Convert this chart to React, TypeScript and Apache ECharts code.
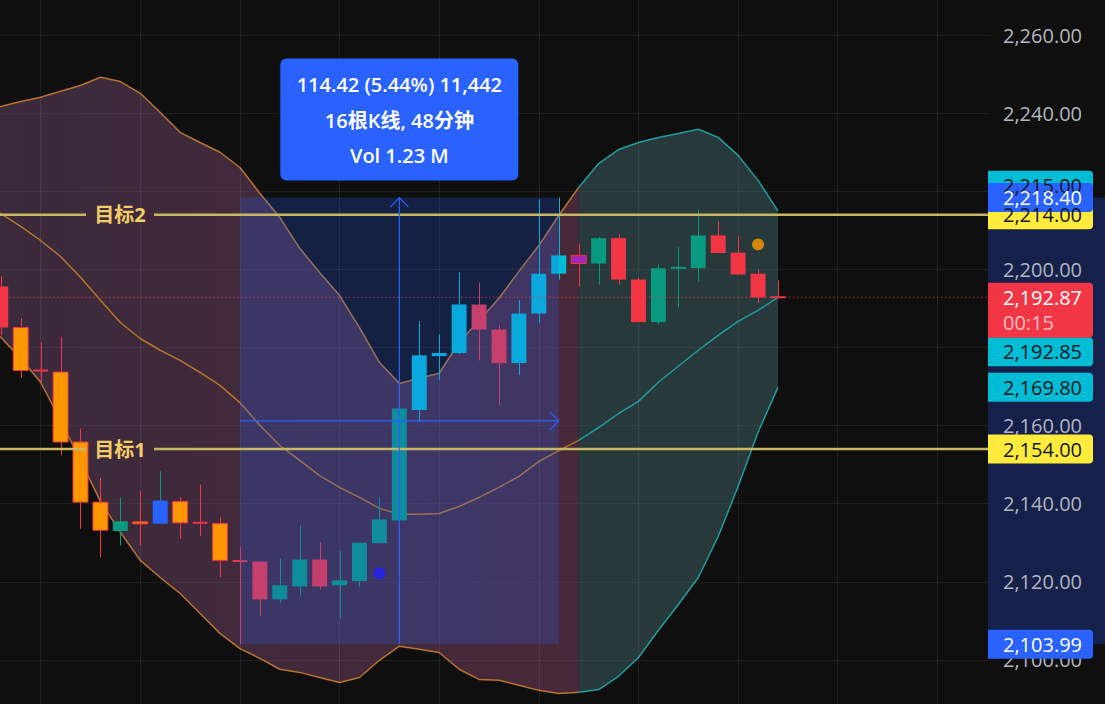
import { useEffect, useRef } from 'react';
import * as echarts from 'echarts';

// ---- candles (index = bar number) ----
const opens = [2195.6, 2185.1, 2174.1, 2173.7, 2155.8, 2140.4, 2133.0, 2135.1, 2134.9, 2140.6, 2135.1, 2134.9, 2125.3, 2125.2, 2115.5, 2118.8, 2125.7, 2119.1, 2120.2, 2129.9, 2135.7, 2164.0, 2177.8, 2178.6, 2191.0, 2184.6, 2176.0, 2188.7, 2198.9, 2203.6, 2201.5, 2208.0, 2197.4, 2186.5, 2200.4, 2200.3, 2208.7, 2204.3, 2198.9, 2192.87];
const closes = [2185.1, 2174.1, 2174.1, 2155.8, 2140.4, 2133.2, 2135.5, 2135.1, 2140.8, 2135.1, 2135.1, 2125.5, 2125.3, 2115.5, 2119.1, 2125.7, 2118.8, 2120.4, 2130.0, 2136.0, 2164.4, 2178.0, 2178.6, 2191.0, 2184.6, 2176.0, 2188.7, 2198.9, 2203.6, 2201.5, 2208.0, 2197.4, 2186.5, 2200.3, 2200.4, 2208.7, 2204.2, 2198.7, 2192.8, 2192.87];
const lows = [2183.1, 2172.2, 2171.1, 2152.4, 2133.6, 2126.3, 2129.3, 2129.3, 2134.9, 2131.0, 2131.7, 2121.2, 2103.99, 2111.2, 2114.5, 2116.5, 2118.0, 2110.6, 2118.6, 2129.9, 2135.7, 2160.9, 2171.6, 2178.3, 2176.7, 2165.2, 2172.9, 2186.2, 2197.4, 2195.6, 2196.1, 2196.1, 2186.5, 2185.9, 2190.3, 2196.9, 2204.2, 2198.7, 2191.4, 2192.87];
const highs = [2198.2, 2187.5, 2181.3, 2182.8, 2159.2, 2146.6, 2141.5, 2143.2, 2148.3, 2141.7, 2144.9, 2136.6, 2128.9, 2125.2, 2125.9, 2134.4, 2130.2, 2127.9, 2130.0, 2141.7, 2164.4, 2186.8, 2183.4, 2199.2, 2196.6, 2185.7, 2192.2, 2217.9, 2218.4, 2206.6, 2208.4, 2209.0, 2198.0, 2201.2, 2205.7, 2215.4, 2212.3, 2208.5, 2199.9, 2197.2];
const kinds = ['R', 'O', 'R', 'O', 'O', 'O', 'T', 'O', 'B', 'O', 'R', 'O', 'R', 'R', 'T', 'T', 'R', 'T', 'T', 'T', 'T', 'C', 'C', 'C', 'R', 'R', 'C', 'C', 'C', 'M', 'T', 'R', 'R', 'T', 'T', 'T', 'R', 'R', 'R', 'R'];

// ---- Bollinger bands (first value is bar -1) ----
const bbStart = -1;
const bbColorSwitch = 29;
const bbUpper = [2240.2, 2241.7, 2243.0, 2244.1, 2245.6, 2247.1, 2249.2, 2248.1, 2245.1, 2240.2, 2235.1, 2232.5, 2230.0, 2226.1, 2219.5, 2213.3, 2205.4, 2199.2, 2193.3, 2185.1, 2176.2, 2170.8, 2172.1, 2173.4, 2181.3, 2186.9, 2192.6, 2199.5, 2206.1, 2213.8, 2221.0, 2227.1, 2230.7, 2232.5, 2233.8, 2234.8, 2235.9, 2233.8, 2229.2, 2222.8, 2215.0];
const bbMiddle = [2216.4, 2214.3, 2211.0, 2207.4, 2203.3, 2198.0, 2192.1, 2186.4, 2182.3, 2179.3, 2176.7, 2173.6, 2170.3, 2165.9, 2160.1, 2154.9, 2151.1, 2147.2, 2144.2, 2141.6, 2138.8, 2137.3, 2137.3, 2137.5, 2139.3, 2141.6, 2144.2, 2147.0, 2150.8, 2153.6, 2156.2, 2159.5, 2163.1, 2166.2, 2171.1, 2175.2, 2179.3, 2183.1, 2186.7, 2189.5, 2192.85];
const bbLower = [2186.9, 2182.6, 2177.2, 2171.1, 2161.3, 2151.1, 2140.6, 2132.7, 2125.5, 2121.1, 2117.0, 2111.9, 2106.8, 2102.9, 2100.4, 2097.6, 2096.8, 2095.5, 2094.2, 2095.5, 2099.9, 2103.5, 2102.7, 2101.9, 2097.6, 2095.0, 2094.8, 2093.5, 2092.2, 2091.4, 2091.7, 2092.4, 2095.8, 2100.6, 2107.6, 2114.2, 2121.1, 2131.6, 2144.4, 2158.3, 2169.8];

// ---- markers ----
const dotBars = [19, 38];
const dotPrices = [2122.2, 2206.4];
const dotColors = ['#2020ff', '#ff9800'];

// ---- targets ----
const targetPrices = [2214, 2154];
const targetLabels = ['目标2', '目标1'];

// ---- measure tool ----
const measureFromBar = 12;
const measureToBar = 28;
const measureHigh = 2218.4;
const measureLow = 2103.99;
const measureLines = ['114.42 (5.44%) 11,442', '16根K线, 48分钟', 'Vol 1.23 M'];

// ---- last price / axis tags ----
const lastPrice = 2192.87;
const countdown = '00:15';
const tagValues = [2215.0, 2214.0, 2218.4, 2192.85, 2169.8, 2154.0, 2103.99];
const tagKinds = ['cyan', 'yellow', 'blue', 'cyan', 'cyan', 'yellow', 'blue'];

// ---- axis ----
const yMin = 2080;
const yMax = 2280;
const yStep = 20;
const xMin = -3;
const xMax = 49.54;
const vGridAt = [2, 7, 12, 17, 22, 27, 32, 37, 42, 47];

// ---- layout (chart canvas is larger than the viewport and shifted) ----
const OX = 59;
const OY = 43;
const VW = 1105;
const VH = 704;
const AXIS_W = 117;
const CW = VW + OX;
const CH = VH + OY + 34;

const FONT = '"Open Sans", "Noto Sans CJK SC", sans-serif';
const palette: Record<string, { fill: string; border: string | null; wick: string }> = {
  R: { fill: '#f23645', border: null, wick: '#f23645' },
  O: { fill: '#ff9800', border: '#f23645', wick: '#f23645' },
  T: { fill: '#089981', border: null, wick: '#089981' },
  B: { fill: '#2962ff', border: null, wick: '#089981' },
  C: { fill: '#00bcd4', border: null, wick: '#00bcd4' },
  M: { fill: '#a328b8', border: '#f23645', wick: '#f23645' },
};
const tagColors: Record<string, { bg: string; fg: string }> = {
  cyan: { bg: '#00bcd4', fg: '#131722' },
  yellow: { bg: '#ffeb3b', fg: '#131722' },
  blue: { bg: '#2962ff', fg: '#ffffff' },
};
const tagShift: Record<string, number> = { '2215': -25.5, '2192.85': 54.5 };

const fmt = (v: number) =>
  v.toLocaleString('en-US', { minimumFractionDigits: 2, maximumFractionDigits: 2 });

export default function App() {
  const ref = useRef<HTMLDivElement>(null);

  useEffect(() => {
    const el = ref.current!;
    const chart = echarts.init(el, undefined, { renderer: 'svg' });

    const bbX = bbUpper.map((_, k) => k + bbStart);
    const seg = (arr: number[], from: number, to: number) =>
      bbX.map((x, k) => [x, arr[k]]).filter((p) => p[0] >= from && p[0] <= to);
    const lastBar = opens.length - 1;

    const orangeLine = { color: '#b8742c', width: 1.5 };
    const tealLine = { color: '#1e9e9e', width: 1.5 };
    const lineSeries = (data: number[][], style: any, extra: any = {}) => ({
      type: 'line',
      data,
      showSymbol: false,
      symbol: 'none',
      lineStyle: style,
      silent: true,
      z: 3,
      ...extra,
    });

    const orangeGrad = new echarts.graphic.LinearGradient(0, 0, 1, 0, [
      { offset: 0, color: 'rgba(101,69,105,0.5)' },
      { offset: 1, color: 'rgba(128,66,98,0.5)' },
    ]);

    const option: any = {
      animation: false,
      backgroundColor: '#0f0f0f',
      grid: { left: 0, right: AXIS_W, top: 0, bottom: 0, outerBoundsMode: 'none', containLabel: false },
      xAxis: { type: 'value', min: xMin, max: xMax, show: false },
      yAxis: {
        type: 'value',
        position: 'right',
        min: yMin,
        max: yMax,
        interval: yStep,
        axisLine: { show: false },
        axisTick: { show: false },
        axisLabel: {
          margin: 15,
          color: '#b2b5be',
          fontSize: 20,
          fontFamily: FONT,
          showMinLabel: false,
          showMaxLabel: false,
          formatter: (v: number) => fmt(v),
        },
        splitLine: { lineStyle: { color: 'rgba(255,255,255,0.07)', width: 1 } },
      },
      series: [
        {
          type: 'custom',
          z: 1,
          silent: true,
          data: [
            [bbStart, bbColorSwitch, 2200],
            [bbColorSwitch, lastBar, 2200],
          ],
          encode: { x: [0, 1], y: 2 },
          renderItem: (params: any, api: any) => {
            const from = api.value(0);
            const to = api.value(1);
            const pts: number[][] = [];
            bbX.forEach((x, k) => {
              if (x >= from && x <= to) pts.push(api.coord([x, bbUpper[k]]));
            });
            for (let k = bbX.length - 1; k >= 0; k--) {
              const x = bbX[k];
              if (x >= from && x <= to) pts.push(api.coord([x, bbLower[k]]));
            }
            return {
              type: 'polygon',
              shape: { points: pts },
              style: { fill: params.dataIndex === 0 ? orangeGrad : 'rgba(64,99,103,0.5)' },
            };
          },
        },
        lineSeries(seg(bbUpper, bbStart, bbColorSwitch), orangeLine, {
          markLine: {
            silent: true,
            symbol: ['none', 'none'],
            label: { show: false },
            lineStyle: { color: 'rgba(255,255,255,0.07)', type: 'solid', width: 1 },
            data: vGridAt.map((v) => ({ xAxis: v })),
          },
        }),
        lineSeries(seg(bbMiddle, bbStart, bbColorSwitch), orangeLine),
        lineSeries(seg(bbLower, bbStart, bbColorSwitch), orangeLine),
        lineSeries(seg(bbUpper, bbColorSwitch, lastBar), tealLine),
        lineSeries(seg(bbMiddle, bbColorSwitch, lastBar), tealLine),
        lineSeries(seg(bbLower, bbColorSwitch, lastBar), tealLine),
        {
          type: 'custom',
          z: 5,
          silent: true,
          data: opens.map((o, i) => [i, o, closes[i], lows[i], highs[i]]),
          encode: { x: 0, y: [1, 2, 3, 4] },
          renderItem: (params: any, api: any) => {
            const i = api.value(0);
            const pal = palette[kinds[params.dataIndex]];
            const yo = api.coord([i, api.value(1)])[1];
            const yc = api.coord([i, api.value(2)])[1];
            const yl = api.coord([i, api.value(3)])[1];
            const yh = api.coord([i, api.value(4)])[1];
            const x = api.coord([i, api.value(1)])[0];
            const w = api.size([1, 0])[0] * 0.75;
            let top = Math.min(yo, yc);
            let h = Math.abs(yo - yc);
            if (h < 2) {
              top = (yo + yc) / 2 - 1;
              h = 2;
            }
            const xc = Math.round(x) + 0.5;
            return {
              type: 'group',
              children: [
                { type: 'line', shape: { x1: xc, y1: yh, x2: xc, y2: yl }, style: { stroke: pal.wick, lineWidth: 1 } },
                {
                  type: 'rect',
                  shape: { x: x - w / 2, y: top, width: w, height: h },
                  style: { fill: pal.fill, stroke: pal.border || undefined, lineWidth: pal.border ? 1 : 0 },
                },
              ],
            };
          },
        },
        {
          type: 'scatter',
          z: 20,
          silent: true,
          symbolSize: 12,
          data: dotBars.map((b, k) => ({ value: [b, dotPrices[k]], itemStyle: { color: dotColors[k] } })),
        },
      ],
    };
    chart.setOption(option);

    const P = (x: number, y: number) => chart.convertToPixel({ gridIndex: 0 } as any, [x, y]) as number[];
    const plotRight = P(xMax, 2200)[0];
    const els: any[] = [];
    const txt = (x: number, y: number, text: string, fill: string, font: string, align = 'left', z = 40) => ({
      type: 'text',
      x,
      y,
      z,
      silent: true,
      style: { text, fill, font, textAlign: align, align, textVerticalAlign: 'middle', verticalAlign: 'middle' },
    });

    // measure box
    const [bx1, by1] = P(measureFromBar, measureHigh);
    const [bx2, by2] = P(measureToBar, measureLow);
    els.push({
      type: 'rect', z: 10, silent: true,
      shape: { x: bx1, y: by1, width: bx2 - bx1, height: by2 - by1 },
      style: { fill: 'rgba(41,98,255,0.22)' },
    });
    // axis highlight strip
    els.push({
      type: 'rect', z: -1, silent: true,
      shape: { x: plotRight, y: by1, width: CW - plotRight, height: by2 - by1 },
      style: { fill: '#15214b' },
    });

    // targets (label gap measured in viewport pixels)
    targetPrices.forEach((t, k) => {
      const y = P(0, t)[1];
      const style = { stroke: '#c8b864', lineWidth: 2.5 };
      els.push({ type: 'line', z: 11, silent: true, shape: { x1: 0, y1: y, x2: OX + 86, y2: y }, style });
      els.push({ type: 'line', z: 11, silent: true, shape: { x1: OX + 154, y1: y, x2: plotRight, y2: y }, style });
      els.push(txt(OX + 120, y, targetLabels[k], '#f3cd68', `700 20px ${FONT}`, 'center', 11));
    });

    // last price dotted line
    const ly = P(0, lastPrice)[1];
    els.push({
      type: 'line', z: 12, silent: true,
      shape: { x1: 0, y1: ly, x2: plotRight, y2: ly },
      style: { stroke: 'rgba(242,54,69,0.8)', lineWidth: 1, lineDash: [1.5, 2.5] },
    });

    // arrows
    const midBar = (measureFromBar + measureToBar) / 2;
    const ax = P(midBar, measureHigh)[0];
    const midY = P(0, (measureHigh + measureLow) / 2)[1];
    const ast = { stroke: '#2962ff', lineWidth: 1.2, fill: 'none' };
    els.push({ type: 'line', z: 13, silent: true, shape: { x1: ax, y1: by2, x2: ax, y2: by1 }, style: ast });
    els.push({ type: 'polyline', z: 13, silent: true, shape: { points: [[ax - 9, by1 + 9.5], [ax, by1], [ax + 9, by1 + 9.5]] }, style: ast });
    els.push({ type: 'line', z: 13, silent: true, shape: { x1: bx1, y1: midY, x2: bx2, y2: midY }, style: ast });
    els.push({ type: 'polyline', z: 13, silent: true, shape: { points: [[bx2 - 9, midY - 9], [bx2, midY], [bx2 - 9, midY + 9]] }, style: ast });

    // measure label
    const lw = 238, lh = 122;
    const lt = by1 - 17 - lh;
    els.push({
      type: 'rect', z: 30, silent: true,
      shape: { x: ax - lw / 2, y: lt, width: lw, height: lh, r: 6 },
      style: { fill: '#2962ff' },
    });
    [26, 62, 97].forEach((dy, k) => {
      els.push(txt(ax, lt + dy, measureLines[k], '#ffffff', `600 20px ${FONT}`, 'center', 31));
    });

    // axis tags
    const tagX = plotRight;
    const tagW = 105;
    const tagH = 29;
    tagValues.forEach((v, k) => {
      const c = tagColors[tagKinds[k]];
      const cy = P(0, v)[1] + (tagShift[String(v)] || 0);
      els.push({
        type: 'rect', z: 40, silent: true,
        shape: { x: tagX, y: cy - tagH / 2, width: tagW, height: tagH, r: [0, 4, 4, 0] },
        style: { fill: c.bg },
      });
      els.push(txt(tagX + 15, cy, fmt(v), c.fg, `400 20px ${FONT}`, 'left', 41));
    });
    // last price tag with countdown
    els.push({
      type: 'rect', z: 42, silent: true,
      shape: { x: tagX, y: ly - 14.5, width: tagW, height: 55, r: [0, 4, 4, 0] },
      style: { fill: '#f23645' },
    });
    els.push(txt(tagX + 15, ly, fmt(lastPrice), '#ffffff', `400 20px ${FONT}`, 'left', 43));
    els.push(txt(tagX + 15, ly + 25, countdown, '#f9c0c5', `400 20px ${FONT}`, 'left', 43));

    chart.setOption({ graphic: { elements: els } });

    return () => chart.dispose();
  }, []);

  return (
    <div style={{ position: 'fixed', left: 0, top: 0, width: VW, height: VH, overflow: 'hidden', background: '#0f0f0f' }}>
      <div ref={ref} style={{ position: 'absolute', left: -OX, top: -OY, width: CW, height: CH }} />
    </div>
  );
}
